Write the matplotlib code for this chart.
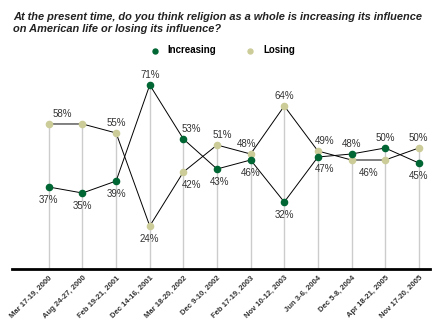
import matplotlib
matplotlib.use('Agg')
import matplotlib.pyplot as plt

# ==[0] Data

dates = ['Mar 17-19, 2000', 'Aug 24-27, 2000', 'Feb 19-21, 2001', 'Dec 14-16, 2001',
         'Mar 18-20, 2002', 'Dec 9-10, 2002', 'Feb 17-19, 2003', 'Nov 10-12, 2003',
         'Jun 3-6, 2004', 'Dec 5-8, 2004', 'Apr 18-21, 2005', 'Nov 17-20, 2005']
increasing = [37, 35, 39, 71, 53, 43, 46, 32, 47, 48, 50, 45]
losing = [58, 58, 55, 24, 42, 51, 48, 64, 49, 46, 46, 50]

title = ('At the present time, do you think religion as a whole is increasing its influence\n'
         'on American life or losing its influence?')

# label offsets in points (None = no label)
incOffsets = [(0, -9), (0, -9), (0, -9), (0, 7), (6, 7), (2, -9), (0, -9), (0, -9),
              (5, -9), (0, 7), (0, 7), (0, -9)]
losOffsets = [(10, 7), None, (0, 7), (0, -9), (6, -9), (4, 7), (-3, 7), (0, 7),
              (5, 7), (12, -9), None, (0, 7)]

green = '#006633'
khaki = '#cccc99'
plt.rcParams['font.family'] = ['Liberation Sans', 'DejaVu Sans']

# ==[1] Figure and axes

fig = plt.figure(figsize=(4.4, 3.3), dpi=100)
ax = fig.add_axes([0.027, 0.185, 0.95, 0.603])
x = list(range(len(dates)))

ax.vlines(x, 9.7, [max(a, b) for a, b in zip(increasing, losing)],
          color='#cccccc', lw=1, zorder=1)
ax.plot(x, increasing, color='black', lw=0.7, zorder=2)
ax.plot(x, losing, color='black', lw=0.7, zorder=2)
ax.scatter(x, increasing, s=20, color=green, zorder=4, label='Increasing')
ax.scatter(x, losing, s=20, color=khaki, zorder=3, label='Losing')

for xi, v, off in zip(x, increasing, incOffsets):
    if off is not None:
        ax.annotate(f'{v}%', (xi, v), xytext=off, textcoords='offset points',
                    ha='center', va='center', fontsize=7, color='#333333', zorder=5)
for xi, v, off in zip(x, losing, losOffsets):
    if off is not None:
        ax.annotate(f'{v}%', (xi, v), xytext=off, textcoords='offset points',
                    ha='center', va='center', fontsize=7, color='#333333', zorder=5)

ax.set_xlim(-1.1, 11.33)
ax.set_ylim(9.7, 76)
for s in ['top', 'right', 'left']:
    ax.spines[s].set_visible(False)
ax.spines['bottom'].set_linewidth(2)
ax.set_yticks([])
ax.set_xticks(x)
ax.set_xticklabels(dates, rotation=45, ha='right', rotation_mode='anchor',
                   fontsize=5.5, fontweight='bold', color='#333333')
ax.tick_params(axis='x', length=0, pad=4)

fig.text(0.03, 0.965, title, ha='left', va='top', fontsize=7.9,
         fontweight='bold', fontstyle='italic', color='#222222', linespacing=1.3)

fig.legend(loc='center', bbox_to_anchor=(0.5, 0.848), ncol=2, frameon=False,
           prop={'weight': 'bold', 'size': 7}, handletextpad=0.3,
           columnspacing=2.5, markerscale=0.8)

fig.savefig('out.png', dpi=100)
